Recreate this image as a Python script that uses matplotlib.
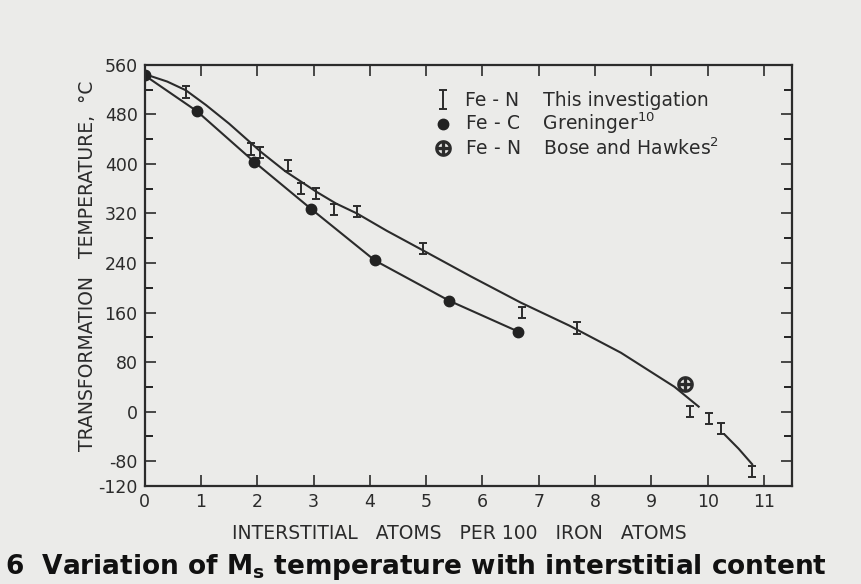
import matplotlib
matplotlib.use('Agg')
import matplotlib.pyplot as plt
import numpy as np

# Fe-N, this investigation (the "I" marks)
fen_x = [0.73, 1.89, 2.05, 2.55, 2.77, 3.05, 3.36, 3.77, 4.95, 6.71, 7.68, 9.68, 10.02, 10.23, 10.79]
fen_y = [516, 424, 419, 397, 360, 352, 326, 323, 263, 160, 135, 0, -11, -27, -97]

# curve drawn through the Fe-N data
fen_curve_x = [0.0, 0.4, 0.73, 1.09, 1.5, 1.86, 2.07, 2.5, 3.05, 3.4, 3.77, 4.3,
               4.89, 5.8, 6.68, 7.54, 8.46, 9.41, 9.84]
fen_curve_y = [545, 533, 519, 495, 465, 436, 419, 388, 355, 336, 320, 292,
               263, 218, 176, 139, 95, 40, 8]
fen_tail_x = [10.30, 10.55, 10.79]
fen_tail_y = [-37, -60, -85]

# Fe-C, Greninger
fec_x = [0.0, 0.93, 1.95, 2.96, 4.09, 5.41, 6.64]
fec_y = [543, 485, 403, 327, 244, 179, 129]

# Fe-N, Bose and Hawkes
bh_x = [9.59]
bh_y = [44]

x_ticks = list(range(0, 12))
y_ticks = [-120, -80, 0, 80, 160, 240, 320, 400, 480, 560]
y_minor = [-40, 40, 120, 200, 280, 360, 440, 520]

paper = '#ebebe9'
ink = '#2b2b2b'

plt.rcParams['font.family'] = ['DejaVu Sans']
plt.rcParams['axes.unicode_minus'] = False

fig = plt.figure(figsize=(8.61, 5.84), dpi=100, facecolor=paper)
ax = fig.add_axes([0.168, 0.168, 0.752, 0.721], facecolor=paper)

ax.plot(fen_curve_x, fen_curve_y, color=ink, lw=1.5)
ax.plot(fen_tail_x, fen_tail_y, color=ink, lw=1.5)
ax.plot(fec_x, fec_y, color=ink, lw=1.5)

h1 = ax.errorbar(fen_x, fen_y, yerr=9, fmt='none', ecolor=ink, elinewidth=1.4,
                 capsize=3, capthick=1.4)
h2, = ax.plot(fec_x, fec_y, 'o', color='#222222', ms=7.5, ls='none')
h3, = ax.plot(bh_x, bh_y, ls='none', marker=r'$\oplus$', color=ink, ms=11)

ax.set_xlim(0, 11.5)
ax.set_ylim(-120, 560)
ax.set_xticks(x_ticks)
ax.set_yticks(y_ticks)
ax.set_yticks(y_minor, minor=True)
ax.tick_params(axis='both', which='major', direction='in', length=8, width=1.2,
               top=True, right=True, labelsize=12.5, colors=ink, pad=5)
ax.tick_params(axis='y', which='minor', direction='in', length=6, width=1.2,
               right=True, left=True)
for s in ax.spines.values():
    s.set_linewidth(1.6)
    s.set_color(ink)

leg = ax.legend([h1, h2, h3],
                ['Fe - N    This investigation', r'Fe - C    Greninger$^{10}$',
                 r'Fe - N    Bose and Hawkes$^{2}$'],
                loc='upper left', bbox_to_anchor=(0.423, 0.978), frameon=False,
                fontsize=13.5, handlelength=0.8, handletextpad=0.8,
                labelspacing=0.05, labelcolor=ink)

fig.text(0.533, 0.087, 'INTERSTITIAL   ATOMS   PER 100   IRON   ATOMS',
         ha='center', va='center', fontsize=13.5, color=ink)
fig.text(0.102, 0.545, 'TRANSFORMATION   TEMPERATURE,  °C', rotation=90,
         ha='center', va='center', fontsize=13.5, color=ink)
fig.text(0.006, 0.004, r'6  Variation of M$_\mathregular{s}$ temperature with interstitial content',
         ha='left', va='bottom', fontsize=19, fontweight='bold', color='#111111')

fig.savefig('out.png', dpi=100, facecolor=paper)
